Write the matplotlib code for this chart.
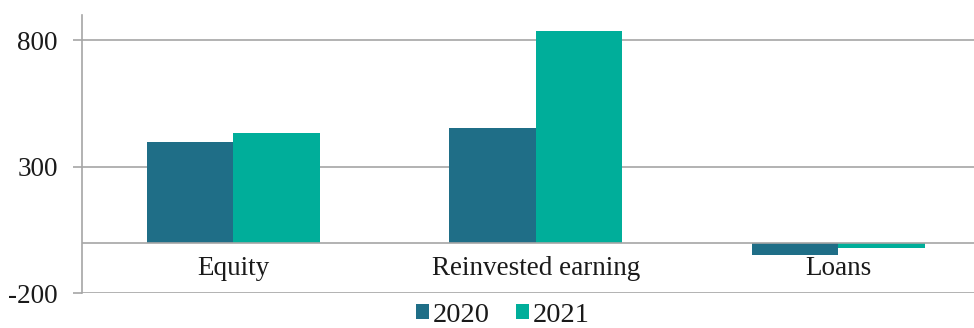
import numpy as np
import matplotlib

matplotlib.use("Agg")
import matplotlib.pyplot as plt
from matplotlib.transforms import offset_copy
from matplotlib.patches import Patch

categories = ["Equity", "Reinvested earning", "Loans"]
series = ["2020", "2021"]
values_2020 = [400, 452, -50]
values_2021 = [432, 836, -22]
y_ticks = [-200, 300, 800]

colors = ["#1F6E87", "#00AE9A"]
grid_color = "#A6A6A6"
text_color = "#1a1a1a"

plt.rcParams["font.family"] = ["Liberation Serif", "DejaVu Serif"]

fig = plt.figure(figsize=(9.74, 3.28), dpi=100)
# plot area runs a little past the right edge of the figure
ax = fig.add_axes([82 / 974, 34.7 / 328, 907.5 / 974, 278.3 / 328])

x = np.arange(len(categories))
width = 1 / 3.5  # gap width 150%
ax.bar(x - width / 2, values_2020, width, color=colors[0], zorder=3)
ax.bar(x + width / 2, values_2021, width, color=colors[1], zorder=3)

ax.set_xlim(-0.5, len(categories) - 0.5)
ax.set_ylim(-200, 900)
ax.set_yticks(y_ticks)
ax.set_yticklabels([str(v) for v in y_ticks], fontsize=19.5, color=text_color)
ax.tick_params(axis="y", length=6.5, width=1.2, color=grid_color, pad=11)
ax.set_xticks([])

for v in y_ticks:
    ax.axhline(v, color=grid_color, lw=1.2, zorder=1)
ax.axhline(0, color=grid_color, lw=1.2, zorder=4)

for s in ["top", "right", "bottom"]:
    ax.spines[s].set_visible(False)
ax.spines["left"].set_color(grid_color)
ax.spines["left"].set_linewidth(1.2)

# category labels sit just under the zero line
label_tr = offset_copy(ax.transData, fig=fig, x=0, y=-9.5, units="points")
for xi, name in zip(x, categories):
    ax.text(xi, 0, name, transform=label_tr, ha="center", va="top",
            fontsize=19.5, color=text_color)

handles = [Patch(facecolor=c, edgecolor="none") for c in colors]
fig.legend(handles, series, loc="center", bbox_to_anchor=(503 / 974, 1 - 315 / 328),
           ncol=2, frameon=False, fontsize=20.5, handlelength=0.45, handleheight=0.45,
           handletextpad=0.15, columnspacing=0.9, labelcolor=text_color,
           borderpad=0)

fig.savefig("out.png", dpi=100)
